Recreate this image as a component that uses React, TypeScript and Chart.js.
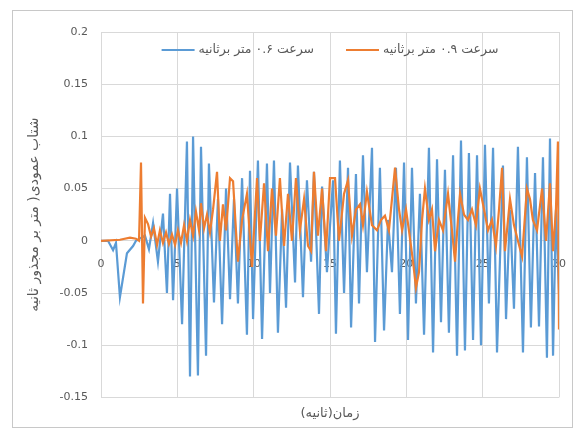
import React, { useEffect, useRef } from "react";
import { Chart, registerables } from "chart.js";

Chart.register(...registerables);

const blueLabel = "سرعت ۰.۶ متر برثانیه";
const orangeLabel = "سرعت ۰.۹ متر برثانیه";
const xTitle = "زمان(ثانیه)";
const yTitle = "شتاب عمودی( متر بر مجذور ثانیه";

const xTicks = [0, 5, 10, 15, 20, 25, 30];
const yTicks = [-0.15, -0.1, -0.05, 0, 0.05, 0.1, 0.15, 0.2];

const blueTime = [
  0, 0.46, 0.79, 0.98, 1.24, 1.7, 2.1, 2.29, 2.88, 3.14, 3.41, 3.73, 4.06, 4.32, 4.52, 4.72,
  4.98, 5.31, 5.63, 5.83, 6.03, 6.35, 6.55, 6.88, 7.07, 7.4, 7.66, 7.93, 8.19, 8.45, 8.71, 8.97,
  9.24, 9.56, 9.76, 9.96, 10.28, 10.55, 10.87, 11.07, 11.33, 11.59, 11.86, 12.12, 12.38, 12.71,
  12.9, 13.23, 13.49, 13.76, 13.95, 14.28, 14.48, 14.8, 15.2, 15.39, 15.65, 15.92, 16.18, 16.38,
  16.7, 16.9, 17.16, 17.42, 17.75, 17.95, 18.27, 18.54, 18.8, 19.06, 19.32, 19.58, 19.85, 20.11,
  20.37, 20.63, 20.89, 21.16, 21.48, 21.75, 22.01, 22.27, 22.53, 22.79, 23.06, 23.32, 23.58,
  23.84, 24.1, 24.37, 24.63, 24.89, 25.15, 25.41, 25.68, 25.94, 26.33, 26.53, 26.79, 27.05,
  27.31, 27.64, 27.9, 28.16, 28.43, 28.69, 28.95, 29.21, 29.41, 29.61, 29.8, 30,
];
const blueAccel = [
  0, 0, -0.009, -0.002, -0.054, -0.012, -0.005, 0, 0.005, -0.008, 0.017, -0.02, 0.026, -0.05, 0.045, -0.057,
  0.05, -0.08, 0.095, -0.13, 0.1, -0.129, 0.09, -0.11, 0.074, -0.059, 0.04, -0.08, 0.05, -0.056, 0.04, -0.06,
  0.06, -0.09, 0.067, -0.075, 0.077, -0.094, 0.074, -0.05, 0.077, -0.088, 0.03, -0.064, 0.075, -0.04,
  0.072, -0.054, 0.058, -0.02, 0.066, -0.07, 0.052, -0.03, 0.058, -0.089, 0.077, -0.05, 0.07, -0.083,
  0.064, -0.06, 0.082, -0.03, 0.089, -0.097, 0.07, -0.086, 0.02, -0.03, 0.07, -0.07, 0.075, -0.095,
  0.07, -0.06, 0.045, -0.09, 0.089, -0.107, 0.078, -0.078, 0.068, -0.088, 0.082, -0.11, 0.096,
  -0.105, 0.084, -0.095, 0.082, -0.1, 0.092, -0.06, 0.089, -0.107, 0.072, -0.075, 0.03, -0.065,
  0.09, -0.107, 0.08, -0.083, 0.065, -0.082, 0.08, -0.112, 0.098, -0.11, 0.03, -0.05,
];

const orangeTime = [
  0, 1.24, 1.9, 2.29, 2.49, 2.62, 2.75, 2.88, 3.08, 3.28, 3.47, 3.67, 3.86, 4.06, 4.26, 4.45,
  4.65, 4.85, 5.04, 5.24, 5.44, 5.63, 5.83, 6.03, 6.22, 6.42, 6.55, 6.75, 6.94, 7.14, 7.34, 7.6,
  7.79, 7.99, 8.19, 8.45, 8.65, 8.84, 8.97, 9.24, 9.56, 9.89, 10.22, 10.41, 10.68, 10.94, 11.2,
  11.46, 11.72, 11.99, 12.25, 12.51, 12.77, 13.03, 13.3, 13.56, 13.76, 13.95, 14.21, 14.48, 14.74,
  15, 15.33, 15.59, 15.92, 16.18, 16.44, 16.7, 16.97, 17.16, 17.42, 17.75, 18.08, 18.34, 18.6,
  18.86, 19.26, 19.52, 19.72, 19.98, 20.17, 20.44, 20.63, 20.83, 21.03, 21.22, 21.48, 21.68,
  21.88, 22.14, 22.4, 22.73, 22.99, 23.19, 23.38, 23.52, 23.78, 24.04, 24.3, 24.56, 24.82, 25.09,
  25.35, 25.61, 25.87, 26.07, 26.27, 26.46, 26.66, 26.79, 27.05, 27.31, 27.58, 27.9, 28.1, 28.29,
  28.56, 28.89, 29.15, 29.41, 29.61, 29.8, 29.93, 30,
];
const orangeAccel = [
  0, 0.001, 0.003, 0.002, 0, 0.075, -0.06, 0.022, 0.016, 0.004, 0.012, -0.004, 0.01, -0.002, 0.008, -0.003,
  0.006, -0.004, 0.01, -0.002, 0.015, 0, 0.02, 0.005, 0.028, 0.01, 0.036, 0.012, 0.025, 0.008, 0.03, 0.066,
  0, 0.035, 0.01, 0.06, 0.057, 0.01, -0.02, 0.02, 0.045, -0.025, 0.06, 0, 0.055, -0.01, 0.05,
  0.005, 0.06, -0.005, 0.045, 0, 0.06, 0.01, 0.04, -0.005, -0.01, 0.066, 0.005, 0.05, -0.01,
  0.06, 0.06, 0, 0.045, 0.058, 0.005, 0.03, 0.035, 0.015, 0.047, 0.015, 0.01, 0.02, 0.024,
  0.01, 0.07, 0.03, 0.01, 0.03, 0.01, -0.02, -0.045, -0.03, 0.02, 0.05, 0.02, 0.03,
  -0.01, 0.02, 0.01, 0.045, 0.01, -0.02, 0.02, 0.045, 0.025, 0.02, 0.03, 0.015, 0.05, 0.03,
  0.01, 0.02, -0.005, 0.03, 0.07, -0.01, 0.02, 0.04, 0.015, 0, -0.015, 0.05, 0.04, 0.02,
  0.01, 0.05, 0, 0.055, -0.01, 0.03, 0.095, -0.085,
];

const BLUE = "#5B9BD5";
const ORANGE = "#ED7D31";
const TEXT = "#595959";
const GRID = "#d9d9d9";
const FONT = '"DejaVu Sans", "Noto Sans", sans-serif';

// Legend drawn inside the plot area (top, centered), Excel-style.
const insideLegend = {
  id: "insideLegend",
  afterDatasetsDraw(chart: any) {
    const { ctx, chartArea } = chart;
    const lineLen = 33;
    const gap = 4;
    const itemGap = 32;
    ctx.save();
    ctx.font = `12.5px ${FONT}`;
    ctx.textBaseline = "middle";
    ctx.textAlign = "left";
    const items = chart.data.datasets.map((ds: any) => ({
      label: ds.label as string,
      color: ds.borderColor as string,
      w: ctx.measureText(ds.label).width,
    }));
    const total =
      items.reduce((s: number, it: any) => s + lineLen + gap + it.w, 0) + itemGap * (items.length - 1);
    let x = (chartArea.left + chartArea.right) / 2 - total / 2;
    const y = chartArea.top + 18;
    for (const it of items) {
      ctx.strokeStyle = it.color;
      ctx.lineWidth = 2.2;
      ctx.beginPath();
      ctx.moveTo(x, y);
      ctx.lineTo(x + lineLen, y);
      ctx.stroke();
      x += lineLen + gap;
      ctx.fillStyle = TEXT;
      ctx.fillText(it.label, x, y);
      x += it.w + itemGap;
    }
    ctx.restore();
  },
};

export default function App() {
  const ref = useRef<HTMLCanvasElement | null>(null);

  useEffect(() => {
    if (!ref.current) return;
    const toXY = (ts: number[], vs: number[]) => ts.map((t, i) => ({ x: t, y: vs[i] }));
    const chart = new Chart(ref.current, {
      type: "line",
      data: {
        datasets: [
          {
            label: blueLabel,
            data: toXY(blueTime, blueAccel),
            borderColor: BLUE,
            backgroundColor: BLUE,
            borderWidth: 2.2,
            pointRadius: 0,
            tension: 0,
            order: 2,
          },
          {
            label: orangeLabel,
            data: toXY(orangeTime, orangeAccel),
            borderColor: ORANGE,
            backgroundColor: ORANGE,
            borderWidth: 2.2,
            pointRadius: 0,
            tension: 0,
            order: 1,
          },
        ],
      },
      options: {
        animation: false,
        responsive: true,
        maintainAspectRatio: false,
        layout: { padding: { left: 10, right: 13, top: 21, bottom: 0 } },
        plugins: {
          tooltip: { enabled: false },
          legend: { display: false },
          title: {
            display: true,
            position: "bottom",
            fullSize: false,
            text: xTitle,
            color: TEXT,
            font: { family: FONT, size: 13, weight: "normal" },
            padding: { top: 8, bottom: 6 },
          },
        },
        scales: {
          x: {
            type: "linear",
            position: { y: 0 },
            min: xTicks[0],
            max: xTicks[xTicks.length - 1],
            afterBuildTicks: (scale: any) => {
              scale.ticks = xTicks.map((v) => ({ value: v }));
            },
            afterFit: (scale: any) => {
              scale.paddingLeft = 0;
              scale.paddingRight = 0;
            },
            grid: { color: GRID, drawTicks: false },
            border: { display: false },
            ticks: {
              color: TEXT,
              font: { family: FONT, size: 11 },
              padding: 17,
              maxRotation: 0,
              autoSkip: false,
            },
          },
          y: {
            type: "linear",
            min: yTicks[0],
            max: yTicks[yTicks.length - 1],
            afterBuildTicks: (scale: any) => {
              scale.ticks = yTicks.map((v) => ({ value: v }));
            },
            afterFit: (scale: any) => {
              scale.width = 78;
              scale.paddingTop = 0;
              scale.paddingBottom = 0;
            },
            grid: { color: GRID, drawTicks: false },
            border: { display: false },
            ticks: {
              color: TEXT,
              font: { family: FONT, size: 11 },
              padding: 13,
              callback: (v: any) => String(Number(Number(v).toFixed(2))),
            },
            title: {
              display: true,
              text: yTitle,
              color: TEXT,
              font: { family: FONT, size: 14 },
              padding: { top: 3, bottom: 4 },
            },
          },
        },
      },
      plugins: [insideLegend],
    });
    return () => chart.destroy();
  }, []);

  return (
    <div
      style={{
        marginLeft: 4,
        marginTop: 2,
        width: 561,
        height: 418,
        border: "1px solid #c8c8c8",
        boxSizing: "border-box",
        background: "#fff",
      }}
    >
      <div style={{ position: "relative", width: 559, height: 416 }}>
        <canvas ref={ref} />
      </div>
    </div>
  );
}
